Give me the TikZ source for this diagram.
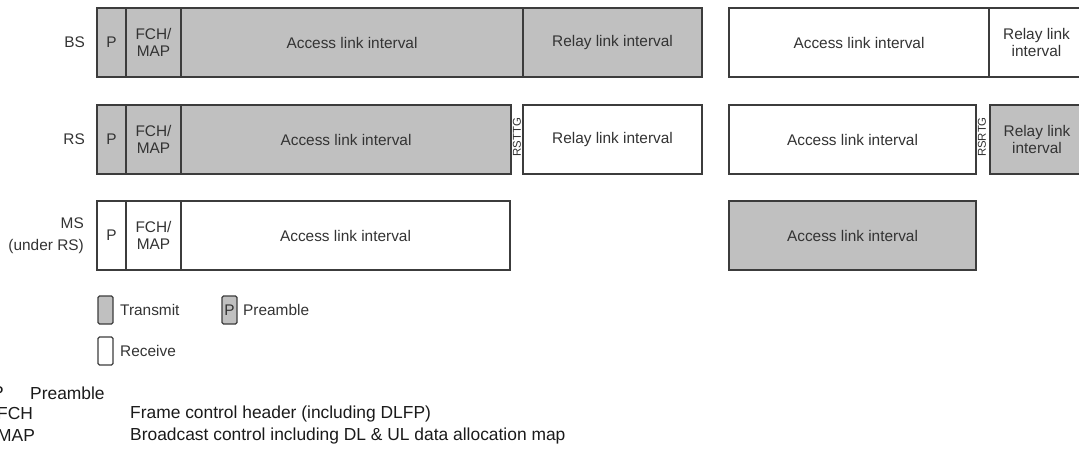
\documentclass[tikz,border=0pt]{standalone}
\usepackage{fontspec}
\setmainfont{Liberation Sans}
\usetikzlibrary{positioning}
\definecolor{txGrey}{HTML}{C0C0C0}
\definecolor{edgeGrey}{HTML}{3C3C3C}
\definecolor{labelGrey}{HTML}{333333}
\definecolor{noteBlack}{HTML}{1A1A1A}

\begin{document}
\begin{tikzpicture}[x=1pt, y=-1pt,
    slot/.style={draw=edgeGrey, line width=1.3pt, minimum height=69pt,
                 inner sep=0pt, outer sep=0pt, align=center, text=labelGrey,
                 font=\fontsize{15.4}{17.5}\selectfont},
    tx/.style={slot, fill=txGrey},
    rx/.style={slot, fill=white},
    lbl/.style={text=labelGrey, align=right, inner sep=0pt,
                font=\fontsize{15.4}{22}\selectfont},
    gap/.style={rotate=90, text=labelGrey, inner sep=0pt,
                font=\fontsize{11.4}{12}\selectfont},
    key/.style={draw=edgeGrey, line width=1.3pt, minimum width=15pt,
                minimum height=28pt, inner sep=0pt, outer sep=0pt,
                rounded corners=1.5pt, anchor=north west, text=labelGrey,
                font=\fontsize{15.4}{17}\selectfont},
    note/.style={text=noteBlack, anchor=west, inner sep=0pt,
                 font=\fontsize{17.4}{20}\selectfont}]
  \useasboundingbox (0,0) rectangle (1079,463);

  % BS
  \node[tx, minimum width=29pt, anchor=north west] (bsP) at (97,8) {P};
  \node[tx, minimum width=55pt, right=0pt of bsP] (bsMap) {FCH/\\MAP};
  \node[tx, minimum width=342pt, right=0pt of bsMap] (bsAcc) {Access link interval};
  \node[tx, minimum width=179pt, right=0pt of bsAcc] (bsRel) {Relay link interval};
  \node[rx, minimum width=260pt, anchor=north west] (bsAccB) at (729,8) {Access link interval};
  \node[rx, minimum width=95pt, right=0pt of bsAccB] (bsRelB) {Relay link\\interval};
  \node[lbl, left=12pt of bsP] (bsLbl) {BS};

  % RS
  \node[tx, minimum width=29pt, anchor=north west] (rsP) at (97,105) {P};
  \node[tx, minimum width=55pt, right=0pt of rsP] (rsMap) {FCH/\\MAP};
  \node[tx, minimum width=330pt, right=0pt of rsMap] (rsAcc) {Access link interval};
  \node[rx, minimum width=179pt, right=12pt of rsAcc] (rsRel) {Relay link interval};
  \node[gap] (rsTtg) at (517,137) {RSTTG};
  \node[rx, minimum width=247pt, anchor=north west] (rsAccB) at (729,105) {Access link interval};
  \node[tx, minimum width=94pt, right=14pt of rsAccB] (rsRelB) {Relay link\\interval};
  \node[gap] (rsRtg) at (982,137) {RSRTG};
  \node[lbl, left=12pt of rsP] (rsLbl) {RS};

  % MS (under RS)
  \node[rx, minimum width=29pt, anchor=north west] (msP) at (97,201) {P};
  \node[rx, minimum width=55pt, right=0pt of msP] (msMap) {FCH/\\MAP};
  \node[rx, minimum width=329pt, right=0pt of msMap] (msAcc) {Access link interval};
  \node[tx, minimum width=247pt, anchor=north west] (msAccB) at (729,201) {Access link interval};
  \node[lbl, left=13pt of msP] (msLbl) {MS\\(under RS)};

  % legend
  \node[key, fill=txGrey] (keyTx) at (98,296) {};
  \node[lbl, right=7pt of keyTx] (keyTxTxt) {Transmit};
  \node[key, fill=txGrey] (keyPre) at (222,296) {P};
  \node[lbl, right=6pt of keyPre] (keyPreTxt) {Preamble};
  \node[key, fill=white] (keyRx) at (98,337) {};
  \node[lbl, right=7pt of keyRx] (keyRxTxt) {Receive};

  % abbreviations
  \node[note] (abP) at (-8,393) {P};
  \node[note] (abPTxt) at (30,393) {Preamble};
  \node[note] (abFch) at (-3,414) {FCH};
  \node[note] (abFchTxt) at (130,414) {Frame control header (including DLFP)};
  \node[note] (abMap) at (-3,436) {MAP};
  \node[note] (abMapTxt) at (130,436) {Broadcast control including DL \& UL data allocation map};
\end{tikzpicture}
\end{document}
